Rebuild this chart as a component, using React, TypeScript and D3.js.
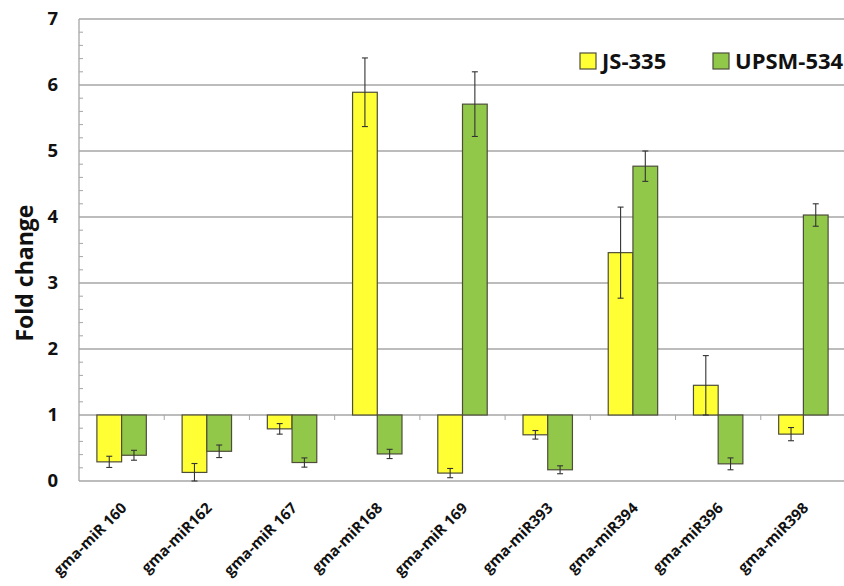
import React from "react";
import * as d3 from "d3";

// miRNA targets on the category axis
const categories = [
  "gma-miR 160",
  "gma-miR162",
  "gma-miR 167",
  "gma-miR168",
  "gma-miR 169",
  "gma-miR393",
  "gma-miR394",
  "gma-miR396",
  "gma-miR398",
];

const seriesNames = ["JS-335", "UPSM-534"];

// fold change per cultivar
const js335 = [0.29, 0.13, 0.79, 5.89, 0.12, 0.7, 3.46, 1.45, 0.71];
const upsm534 = [0.39, 0.45, 0.28, 0.41, 5.71, 0.17, 4.77, 0.26, 4.03];

// standard error per cultivar
const js335Err = [0.085, 0.135, 0.08, 0.52, 0.07, 0.065, 0.69, 0.45, 0.1];
const upsm534Err = [0.075, 0.095, 0.07, 0.07, 0.49, 0.06, 0.23, 0.09, 0.17];

const yTicks = [0, 1, 2, 3, 4, 5, 6, 7];

const COLORS = ["#FFFF33", "#92C84A"];
const BASELINE = 1;

export default function App() {
  const width = 844;
  const height = 586;
  const left = 79;
  const right = 846;
  const top = 19;
  const bottom = 481;

  const x = d3.scaleBand<string>().domain(categories).range([left, right]).paddingInner(0).paddingOuter(0);
  const y = d3.scaleLinear().domain([0, 7]).range([bottom, top]);
  const barW = x.bandwidth() * 0.29;

  const series = [
    { values: js335, errs: js335Err },
    { values: upsm534, errs: upsm534Err },
  ];

  const minorTicks = d3.range(0, 7.001, 0.2).filter((v) => Math.abs(v - Math.round(v)) > 1e-6);
  const font = "'Open Sans', 'Noto Sans', sans-serif";

  return (
    <svg
      width={width}
      height={height}
      style={{ position: "absolute", left: 0, top: 0, background: "#fff" }}
      fontFamily={font}
    >
      {/* horizontal gridlines */}
      {yTicks.map((t) => (
        <line key={"g" + t} x1={left} x2={right} y1={y(t)} y2={y(t)} stroke="#A6A6A6" strokeWidth={1.3} />
      ))}
      {/* left axis */}
      <line x1={left} x2={left} y1={top} y2={bottom} stroke="#A6A6A6" strokeWidth={1.3} />
      {minorTicks.map((t, i) => (
        <line key={"m" + i} x1={left} x2={left + 4} y1={y(t)} y2={y(t)} stroke="#A6A6A6" strokeWidth={1} />
      ))}
      {yTicks.map((t) => (
        <text
          key={"yl" + t}
          x={58}
          y={y(t)}
          dy="0.35em"
          textAnchor="end"
          fontWeight="bold"
          fontSize={18.5}
          fill="#111"
        >
          {t}
        </text>
      ))}
      <text
        transform={`translate(33,${y(3.15)}) rotate(-90)`}
        textAnchor="middle"
        fontWeight="bold"
        fontSize={23}
        fill="#111"
      >
        Fold change
      </text>

      {/* category boundary ticks on the baseline */}
      {categories.map((c, i) => (
        <line
          key={"ct" + i}
          x1={(x(c) ?? 0) + x.bandwidth()}
          x2={(x(c) ?? 0) + x.bandwidth()}
          y1={y(BASELINE)}
          y2={y(BASELINE) + 5}
          stroke="#A6A6A6"
          strokeWidth={1}
        />
      ))}

      {/* bars */}
      {categories.map((c, i) => {
        const cx = (x(c) ?? 0) + x.bandwidth() / 2;
        return series.map((s, k) => {
          const v = s.values[i];
          const bx = cx - barW + k * barW;
          const y0 = y(Math.max(v, BASELINE));
          const y1 = y(Math.min(v, BASELINE));
          return (
            <rect
              key={`b${i}-${k}`}
              x={bx}
              y={y0}
              width={barW}
              height={y1 - y0}
              fill={COLORS[k]}
              stroke="#4D4D3A"
              strokeWidth={1.2}
            />
          );
        });
      })}

      {/* error bars */}
      {categories.map((c, i) => {
        const cx = (x(c) ?? 0) + x.bandwidth() / 2;
        return series.map((s, k) => {
          const v = s.values[i];
          const e = s.errs[i];
          const ex = cx - barW + k * barW + barW / 2;
          const yHi = y(v + e);
          const yLo = y(Math.max(0, v - e));
          return (
            <g key={`e${i}-${k}`} stroke="#333" strokeWidth={1.1}>
              <line x1={ex} x2={ex} y1={yHi} y2={yLo} />
              <line x1={ex - 3} x2={ex + 3} y1={yHi} y2={yHi} />
              <line x1={ex - 3} x2={ex + 3} y1={yLo} y2={yLo} />
            </g>
          );
        });
      })}

      {/* category labels */}
      {categories.map((c) => {
        const cx = (x(c) ?? 0) + x.bandwidth() / 2;
        return (
          <text
            key={"cl" + c}
            transform={`translate(${cx + 6},${509}) rotate(-45)`}
            textAnchor="end"
            fontWeight="bold"
            fontSize={15}
            fill="#111"
          >
            {c}
          </text>
        );
      })}

      {/* legend */}
      {seriesNames.map((name, k) => {
        const lx = k === 0 ? 580 : 713;
        return (
          <g key={"lg" + k}>
            <rect x={lx} y={53} width={16} height={16} fill={COLORS[k]} stroke="#4D4D3A" strokeWidth={1.2} />
            <text x={lx + 22} y={61} dy="0.36em" fontWeight="bold" fontSize={22} fill="#111">
              {name}
            </text>
          </g>
        );
      })}
    </svg>
  );
}
